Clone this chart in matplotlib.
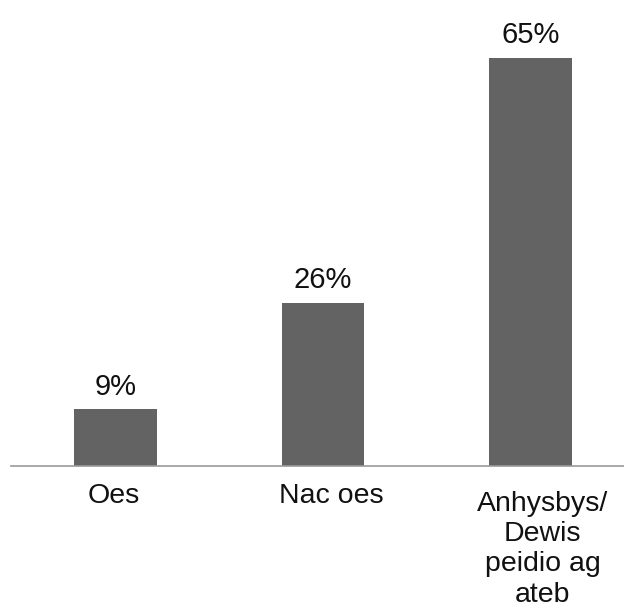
import matplotlib
matplotlib.use("Agg")
import matplotlib.pyplot as plt
from matplotlib.transforms import ScaledTranslation

categories = ["Oes", "Nac oes", "Anhysbys/\nDewis\npeidio ag\nateb"]
values = [9, 26, 65]
value_labels = ["9%", "26%", "65%"]

BAR = "#636363"
AXIS = "#999999"

plt.rcParams.update({"font.family": ["Liberation Sans", "DejaVu Sans"]})

fig = plt.figure(figsize=(6.24, 6.15), dpi=100)
ax = fig.add_axes([11 / 624, 149 / 615, 613 / 624, 439.6 / 615])

x = list(range(len(categories)))
ax.bar(x, values, width=0.4, color=BAR, zorder=2)
for xi, v, lab in zip(x, values, value_labels):
    ax.annotate(lab, (xi, v), xytext=(0, 6), textcoords="offset points",
                ha="center", va="bottom", fontsize=21, color="#111111")

ax.set_xlim(-0.504, 2.451)
ax.set_ylim(0, 70)
ax.set_xticks(x)
ax.set_xticklabels(categories, fontsize=20.5, color="#111111", linespacing=1.22)
ax.tick_params(axis="x", length=0, pad=12)
# labels in the original sit a little off the bar centres
for lbl, dx, dy in zip(ax.get_xticklabels(), [-2, 8, 12], [0, 0, -8]):
    lbl.set_transform(lbl.get_transform()
                      + ScaledTranslation(dx / 100, dy / 100, fig.dpi_scale_trans))
ax.set_yticks([])
for s in ("top", "right", "left"):
    ax.spines[s].set_visible(False)
ax.spines["bottom"].set_color(AXIS)
ax.spines["bottom"].set_linewidth(1.2)

fig.savefig("out.png", dpi=100)
